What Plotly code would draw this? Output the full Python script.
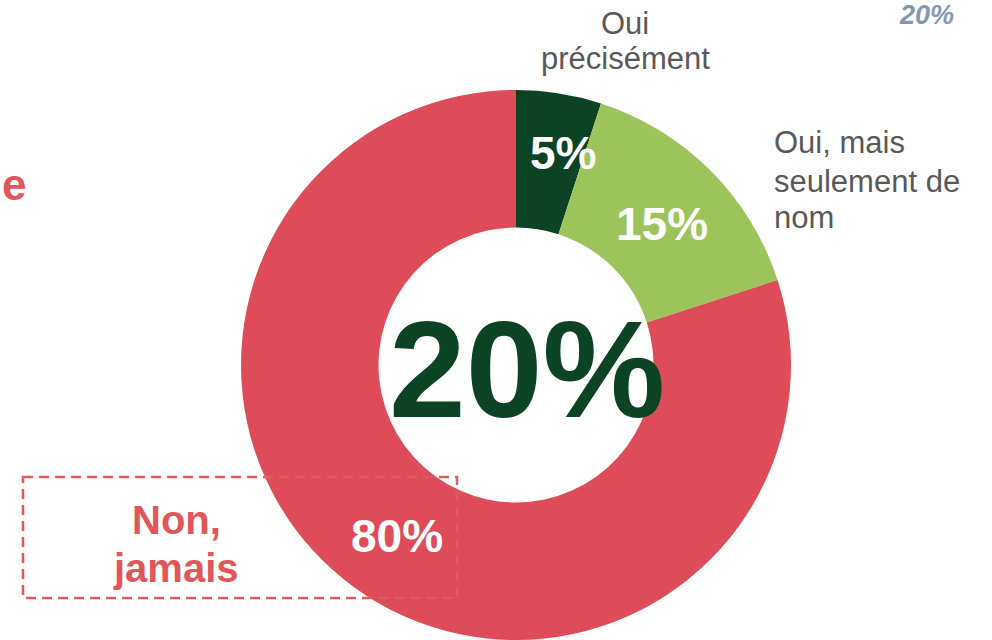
import plotly.graph_objects as go

# ---------------------------------------------------- Data ------------------------------------------------------------

categories = ['Oui précisément', 'Oui, mais seulement de nom', 'Non, jamais']
values = [5, 15, 80]
slice_colors = ['#0c4324', '#9dc45a', '#de4c5a']
total_yes = values[0] + values[1]

W, H = 992, 640
ML, MT, MR, MB = 40, 90, 0, 0
PW, PH = W - ML - MR, H - MT - MB


def px(x, y):
    """screen pixel position -> paper coords"""
    return (x - ML) / PW, 1 - (y - MT) / PH


def label(x, y, text, size, color, bold=False, italic=False, xanchor='center'):
    xp, yp = px(x, y)
    if bold:
        text = '<b>%s</b>' % text
    if italic:
        text = '<i>%s</i>' % text
    return dict(x=xp, y=yp, xref='paper', yref='paper', text=text, showarrow=False,
                xanchor=xanchor, yanchor='middle', borderpad=0,
                font=dict(size=size, color=color, family='Arial, Liberation Sans'))


fig = go.Figure(go.Pie(
    labels=categories, values=values, hole=0.5, sort=False, direction='clockwise',
    marker=dict(colors=slice_colors, line=dict(width=0)), textinfo='none', hoverinfo='label+percent',
))

annotations = [
    # center total
    label(527, 369, '%d%%' % total_yes, 138, '#0c4324', bold=True),
    # slice percentages
    label(563, 153, '%d%%' % values[0], 46, 'white', bold=True),
    label(662, 224, '%d%%' % values[1], 46, 'white', bold=True),
    label(397, 536, '%d%%' % values[2], 46, 'white', bold=True),
    # category labels
    label(625, 23, 'Oui', 31, '#595959'),
    label(625, 59, 'précisément', 31, '#595959'),
    label(773, 143, 'Oui, mais', 31, '#595959', xanchor='left'),
    label(773, 181, 'seulement de', 31, '#595959', xanchor='left'),
    label(773, 218, 'nom', 31, '#595959', xanchor='left'),
    label(176, 520, 'Non,', 40, '#e0575a', bold=True),
    label(176, 568, 'jamais', 40, '#e0575a', bold=True),
    # stray bits at edges
    label(27, 184, 'e', 44, '#e0575a', bold=True, xanchor='right'),
    label(926, 15, '%d%%' % total_yes, 27, '#8497b0', bold=True, italic=True),
]

x0, y0 = px(23, 477)
x1, y1 = px(457, 598)

fig.update_layout(
    width=W, height=H, showlegend=False,
    margin=dict(l=ML, r=MR, t=MT, b=MB),
    paper_bgcolor='white', plot_bgcolor='white',
    annotations=annotations,
    shapes=[dict(type='rect', xref='paper', yref='paper', x0=x0, y0=y0, x1=x1, y1=y1,
                 line=dict(color='#e25a5e', width=2.5, dash='10px,6px'), layer='above')],
)

# drop the default page margin so the figure sits at the window's corner
fig.write_html('out.html', config={'displayModeBar': False},
               post_script="document.body.style.margin='0px';")
